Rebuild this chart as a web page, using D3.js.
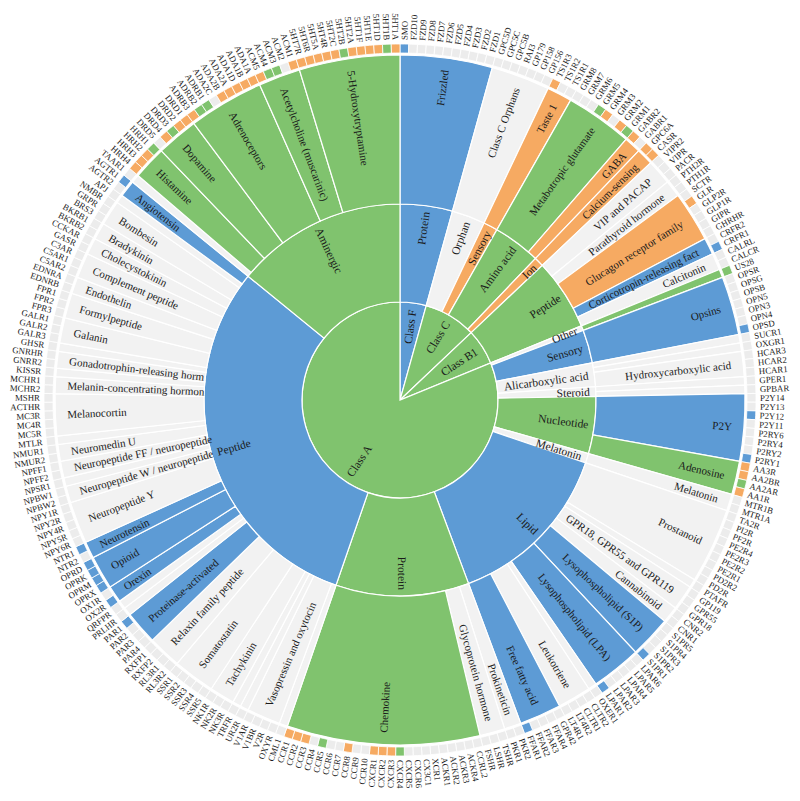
<!DOCTYPE html>
<html><head><meta charset="utf-8">
<script src="https://cdn.jsdelivr.net/npm/d3@7"></script>
<style>
body{margin:0;background:#fff}
svg{display:block}
text{font-family:"Liberation Serif","Times New Roman",serif;fill:#1a1a1a}
</style>
</head><body>
<svg id="chart" width="800" height="801"></svg>
<script>
// ---- DATA ----
const classes = [
  ["F","Class F","b"],
  ["C","Class C","g"],
  ["B1","Class B1","g"],
  ["A","Class A","g"]
];
const ligandTypes = [
  ["F.prot","Protein","F","b"],
  ["C.orph","Orphan","C",""],
  ["C.sens","Sensory","C","o"],
  ["C.amino","Amino acid","C","g"],
  ["C.ion","Ion","C","o"],
  ["B1.pep","Peptide","B1","g"],
  ["A.oth","Other","A",""],
  ["A.sens","Sensory","A","b"],
  ["A.alic","Alicarboxylic acid","A",""],
  ["A.ster","Steroid","A",""],
  ["A.nuc","Nucleotide","A","g"],
  ["A.mel","Melatonin","A",""],
  ["A.lip","Lipid","A","b"],
  ["A.prot","Protein","A","g"],
  ["A.pep","Peptide","A","b"],
  ["A.amin","Aminergic","A","g"]
];
const families = [
  ["Frizzled","F.prot","b","SMO FZD10 FZD9 FZD8 FZD7 FZD6 FZD5 FZD4 FZD3 FZD2 FZD1"],
  ["Class C Orphans","C.orph","","GPC5D GPC5C GPC5B RAI3 GP179 GP158 GP156"],
  ["Taste 1","C.sens","o","TS1R3 TS1R2 TS1R1"],
  ["Metabotropic glutamate","C.amino","g","GRM8 GRM7 GRM6 GRM5 GRM4 GRM3 GRM2 GRM1"],
  ["GABA","C.amino","o","GABR2 GABR1"],
  ["Calcium-sensing","C.ion","o","GPC6A CASR"],
  ["VIP and PACAP","B1.pep","","VIPR2 VIPR PACR"],
  ["Parathyroid hormone","B1.pep","","PTH2R PTH1R"],
  ["Glucagon receptor family","B1.pep","o","SCTR GLR GLP2R GLP1R GIPR GHRHR"],
  ["Corticotropin-releasing fact","B1.pep","b","CRFR2 CRFR1"],
  ["Calcitonin","B1.pep","","CALRL CALCR"],
  ["Viral","A.oth","g","US28"],
  ["Opsins","A.sens","b","OPSR OPSG OPSB OPN5 OPN3 OPN4 OPSD"],
  ["Succinate","A.alic","","SUCR1"],
  ["Oxoglutarate","A.alic","","OXGR1"],
  ["Hydroxycarboxylic acid","A.alic","","HCAR3 HCAR2 HCAR1"],
  ["Estrogen","A.ster","","GPER1"],
  ["Bile acid","A.ster","","GPBAR"],
  ["P2Y","A.nuc","b","P2Y14 P2Y13 P2Y12 P2Y11 P2RY6 P2RY4 P2RY2 P2RY1"],
  ["Adenosine","A.nuc","g","AA3R AA2BR AA2AR AA1R"],
  ["Melatonin","A.mel","","MTR1B MTR1A"],
  ["Prostanoid","A.lip","","TA2R PI2R PF2R PE2R4 PE2R3 PE2R2 PE2R1 PD2R2 PD2R"],
  ["Platelet-activating factor","A.lip","","PTAFR"],
  ["GPR18, GPR55 and GPR119","A.lip","","GP119 GPR55 GPR18"],
  ["Cannabinoid","A.lip","","CNR2 CNR1"],
  ["Lysophospholipid (S1P)","A.lip","b","S1PR5 S1PR4 S1PR3 S1PR2 S1PR1"],
  ["Lysophospholipid (LPA)","A.lip","b","LPAR6 LPAR5 LPAR4 LPAR3 LPAR2 LPAR1"],
  ["Oxoeicosanoid","A.lip","","OXER1"],
  ["Leukotriene","A.lip","","CLTR2 CLTR1 LT4R2 LT4R1"],
  ["Free fatty acid","A.lip","b","GPR42 FFAR4 FFAR3 FFAR2 FFAR1"],
  ["Prokineticin","A.prot","","PKR2 PKR1"],
  ["Glycoprotein hormone","A.prot","","TSHR LSHR FSHR"],
  ["Chemokine","A.prot","g","CCRL2 ACKR4 ACKR3 ACKR2 ACKR1 XCR1 CX3C1 CXCR6 CXCR5 CXCR4 CXCR3 CXCR2 CXCR1 CCR10 CCR9 CCR8 CCR7 CCR6 CCR5 CCR4 CCR3 CCR2 CCR1"],
  ["Chemerin","A.pep","","CML1"],
  ["Vasopressin and oxytocin","A.pep","","OXYR V2R V1BR V1AR"],
  ["Urotensin","A.pep","","UR2R"],
  ["Thyrotropin-releasing hormone","A.pep","","TRFR"],
  ["Tachykinin","A.pep","","NK3R NK2R NK1R"],
  ["Somatostatin","A.pep","","SSR5 SSR4 SSR3 SSR2 SSR1"],
  ["Relaxin family peptide","A.pep","","RL3R2 RL3R1 RXFP2 RXFP1"],
  ["Proteinase-activated","A.pep","b","PAR4 PAR3 PAR2 PAR1"],
  ["Prolactin-releasing peptide","A.pep","","PRLHR"],
  ["QRFP","A.pep","","QRFPR"],
  ["Orexin","A.pep","b","OX2R OX1R"],
  ["Opioid","A.pep","b","OPRX OPRM OPRK OPRD"],
  ["Neurotensin","A.pep","b","NTR2 NTR1"],
  ["Neuropeptide Y","A.pep","","NPY6R NPY5R NPY4R NPY2R NPY1R"],
  ["Neuropeptide W / neuropeptide","A.pep","","NPBW2 NPBW1"],
  ["Neuropeptide S","A.pep","","NPSR1"],
  ["Neuropeptide FF / neuropeptide","A.pep","","NPFF2 NPFF1"],
  ["Neuromedin U","A.pep","","NMUR2 NMUR1"],
  ["Motilin","A.pep","","MTLR"],
  ["Melanocortin","A.pep","","MC5R MC4R MC3R ACTHR MSHR"],
  ["Melanin-concentrating hormon","A.pep","","MCHR2 MCHR1"],
  ["Kisspeptin","A.pep","","KISSR"],
  ["Gonadotrophin-releasing horm","A.pep","","GNRR2 GNRHR"],
  ["Ghrelin","A.pep","","GHSR"],
  ["Galanin","A.pep","","GALR3 GALR2 GALR1"],
  ["Formylpeptide","A.pep","","FPR3 FPR2 FPR1"],
  ["Endothelin","A.pep","","EDNRB EDNRA"],
  ["Complement peptide","A.pep","","C5AR2 C5AR1 C3AR"],
  ["Cholecystokinin","A.pep","","GASR CCKAR"],
  ["Bradykinin","A.pep","","BKRB2 BKRB1"],
  ["Bombesin","A.pep","","BRS3 GRPR NMBR"],
  ["Apelin","A.pep","","APJ"],
  ["Angiotensin","A.pep","b","AGTR2 AGTR1"],
  ["Trace amine","A.amin","","TAAR1"],
  ["Histamine","A.amin","g","HRH4 HRH3 HRH2 HRH1"],
  ["Dopamine","A.amin","g","DRD5 DRD4 DRD3 DRD2 DRD1"],
  ["Adrenoceptors","A.amin","g","ADRB3 ADRB2 ADRB1 ADA2C ADA2B ADA2A ADA1D ADA1B ADA1A"],
  ["Acetylcholine (muscarinic)","A.amin","g","ACM5 ACM4 ACM3 ACM2 ACM1"],
  ["5-Hydroxytryptamine","A.amin","g","5HT7R 5HT6R 5HT5A 5HT4R 5HT2C 5HT2B 5HT2A 5HT1F 5HT1E 5HT1D 5HT1B 5HT1A"]
];
const leafOrange = ["TS1R3","GRM4","GRM2","GABR2","GPC6A","CASR","GLR","AA3R","AA2BR","AA1R",
  "CXCR3","CXCR2","CXCR1","CCR8","CCR3","CCR2","CCR1",
  "HRH4","HRH3","HRH2","DRD4","DRD2","DRD1","ADRB3","ADA2B","ADA2A","ADA1D","ADA1B","ADA1A",
  "ACM5","ACM1","5HT7R","5HT6R","5HT5A","5HT4R","5HT2C","5HT2A","5HT1F","5HT1E","5HT1D","5HT1A"];
const leafGreen = ["GRM5","GRM1","US28","AA2AR","CXCR4","CCR5","HRH1","DRD3","ADRB2","ADRB1","ACM4","ACM3","5HT2B","5HT1B"];
const leafBlue = ["SMO","CRFR1","OPSD","P2Y12","P2RY1","S1PR1","LPAR1","FFAR1","NTR1",
  "OPRX","OPRM","OPRK","OPRD","OX2R","PAR1","AGTR1"];

// ---- BUILD ----
const palette = {g:"#80c36e", b:"#5d9bd5", o:"#f6aa62", "":"#f2f2f2"};
const leafBase = "#ececec";
const depthR = [[0,0],[0,98],[98,196],[196,345],[347,356]];
const labelR = 360;

const root = {name:"root", children:[]};
const byId = {};
classes.forEach(([id,name,c]) => { const n={name,code:c,children:[]}; byId[id]=n; root.children.push(n); });
ligandTypes.forEach(([id,name,cls,c]) => { const n={name,code:c,children:[]}; byId[id]=n; byId[cls].children.push(n); });
function leafCode(r){ if(leafOrange.includes(r)) return "o"; if(leafGreen.includes(r)) return "g"; if(leafBlue.includes(r)) return "b"; return null; }
families.forEach(([name,lt,c,recs]) => {
  byId[lt].children.push({name, code:c, children: recs.split(" ").map(r => ({name:r, code:leafCode(r)}))});
});

const hier = d3.hierarchy(root).sum(d => d.children ? 0 : 1);
d3.partition().size([2*Math.PI, 4])(hier);
const nLeaves = hier.leaves().length;
const unit = 2*Math.PI / nLeaves;

const svg = d3.select("#chart");
const g = svg.append("g").attr("transform","translate(400,400)");

const arc = d3.arc()
  .startAngle(d => d.x0).endAngle(d => d.x1)
  .innerRadius(d => depthR[d.depth][0])
  .outerRadius(d => depthR[d.depth][1]);

const nodes = hier.descendants().filter(d => d.depth > 0);

g.selectAll("path.seg").data(nodes).join("path")
  .attr("class","seg")
  .attr("d", arc)
  .attr("fill", d => d.depth === 4 ? (d.data.code ? palette[d.data.code] : leafBase) : palette[d.data.code])
  .attr("stroke","#fff")
  .attr("stroke-width", d => d.depth === 4 ? 0.8 : 1.2);

const deg = a => a * 180 / Math.PI;
const pad = [0, 7, 6, 12];
const fontSz = [0, 11.5, 11.5, 11];
const inner = nodes.filter(d => d.depth < 4 && (d.depth < 3 || (d.x1 - d.x0) > unit * 1.5));
g.selectAll("text.in").data(inner).join("text")
  .attr("class","in")
  .attr("transform", d => {
    const a = deg((d.x0 + d.x1) / 2);
    const r = depthR[d.depth][1] - pad[d.depth];
    return `rotate(${a - 90}) translate(${r},0) rotate(${a < 180 ? 0 : 180})`;
  })
  .attr("text-anchor", d => deg((d.x0 + d.x1) / 2) < 180 ? "end" : "start")
  .attr("dy","0.35em")
  .style("font-size", d => fontSz[d.depth] + "px")
  .text(d => d.data.name);

g.selectAll("text.leaf").data(hier.leaves()).join("text")
  .attr("class","leaf")
  .attr("transform", d => {
    const a = deg((d.x0 + d.x1) / 2);
    return `rotate(${a - 90}) translate(${labelR},0) rotate(${a < 180 ? 0 : 180})`;
  })
  .attr("text-anchor", d => deg((d.x0 + d.x1) / 2) < 180 ? "start" : "end")
  .attr("dy","0.35em")
  .style("font-size","8.8px")
  .text(d => d.data.name);
</script>
</body></html>
